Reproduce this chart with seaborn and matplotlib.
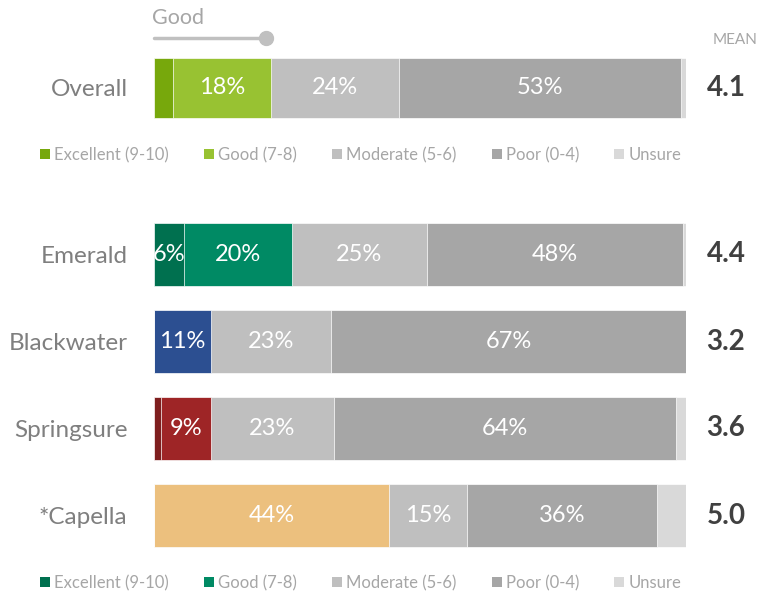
import numpy as np
import pandas as pd
import matplotlib
matplotlib.use("Agg")
import matplotlib.pyplot as plt
import seaborn as sns
from matplotlib.patches import Patch
from matplotlib.lines import Line2D

sns.set_style("white")
plt.rcParams['font.family'] = ['Lato', 'DejaVu Sans']

segments = ["Excellent (9-10)", "Good (7-8)", "Moderate (5-6)", "Poor (0-4)", "Unsure"]

# overall row (percent shares)
overall_label = ["Overall"]
overall_excellent = [3.6]
overall_good = [18.4]
overall_moderate = [24.1]
overall_poor = [53.0]
overall_unsure = [0.9]
overall_mean = [4.1]

# per-site rows
sites = ["Emerald", "Blackwater", "Springsure", "*Capella"]
site_excellent = [5.6, 0.0, 1.3, 0.0]
site_good = [20.3, 10.7, 9.4, 44.2]
site_moderate = [25.4, 22.6, 23.1, 14.6]
site_poor = [48.1, 66.7, 64.3, 35.8]
site_unsure = [0.6, 0.0, 1.9, 5.4]
site_mean = [4.4, 3.2, 3.6, 5.0]

overall_exc_col = ["#77A80C"]
overall_good_col = ["#98C232"]
site_exc_col = ["#00704F", "#2C4F91", "#7E1E1E", "#ECC07E"]
site_good_col = ["#008A64", "#2C4F91", "#9E2526", "#ECC07E"]
grey_cols = ["#BFBFBF", "#A6A6A6", "#D9D9D9"]

LABEL_GREY = "#7F7F7F"
LEGEND_GREY = "#A6A6A6"
W, H = 761, 594

fig = plt.figure(figsize=(W / 100, H / 100), dpi=100)


def px_axes(left, top, right, bottom):
    return fig.add_axes([left / W, 1 - bottom / H, (right - left) / W, (bottom - top) / H])


def stacked(ax, names, parts, part_cols, means, width):
    df = pd.DataFrame({"name": names})
    cums = np.cumsum(np.array(parts), axis=0)
    # draw the longest cumulative first so shorter ones overlay it
    for k in range(len(parts) - 1, -1, -1):
        df["val"] = cums[k]
        sns.barplot(data=df, x="val", y="name", hue="name", palette=part_cols[k],
                    orient="h", width=width, legend=False, ax=ax,
                    edgecolor="white", linewidth=0.5, saturation=1)
    for i in range(len(names)):
        left = 0
        for k in range(len(parts)):
            v = parts[k][i]
            if v >= 5.5:
                ax.text(left + v / 2, i, f"{round(v)}%", ha="center", va="center",
                        color="white", fontsize=17)
            left += v
        ax.text(107.5, i, f"{means[i]:.1f}", ha="center", va="center",
                fontsize=20, fontweight="bold", color="#404040", clip_on=False)
    ax.set_xlim(0, 100)
    ax.set_xlabel("")
    ax.set_ylabel("")
    ax.set_xticks([])
    ax.tick_params(axis="y", length=0, pad=19, labelsize=17.5, labelcolor=LABEL_GREY)
    sns.despine(ax=ax, left=True, bottom=True)


def legend(ax, exc_col, good_col, y):
    cols = [exc_col, good_col] + grey_cols
    handles = [Patch(facecolor=c, edgecolor="none") for c in cols]
    leg = ax.legend(handles, segments, loc="center left", bbox_to_anchor=(40 / W, 1 - y / H),
                    bbox_transform=fig.transFigure, ncol=5, frameon=False, fontsize=12,
                    handlelength=0.6, handleheight=0.6, handletextpad=0.25,
                    columnspacing=2.1, borderpad=0, borderaxespad=0)
    for t in leg.get_texts():
        t.set_color(LEGEND_GREY)


ax1 = px_axes(154, 44.5, 686, 131.5)
stacked(ax1, overall_label,
        [overall_excellent, overall_good, overall_moderate, overall_poor, overall_unsure],
        [overall_exc_col, overall_good_col] + [[c] for c in grey_cols],
        overall_mean, 0.7)
ax1.set_ylim(0.5, -0.5)
legend(ax1, overall_exc_col[0], overall_good_col[0], 155)

ax2 = px_axes(154, 211, 686, 559)
stacked(ax2, sites,
        [site_excellent, site_good, site_moderate, site_poor, site_unsure],
        [site_exc_col, site_good_col] + [[c] * 4 for c in grey_cols],
        site_mean, 0.725)
ax2.set_ylim(3.5, -0.5)
legend(ax2, site_exc_col[0], site_good_col[0], 583)

# slider decoration and headers
fig.add_artist(Line2D([154 / W, 266 / W], [1 - 38 / H] * 2, color="#C0C0C0", lw=2.5,
                      transform=fig.transFigure))
fig.add_artist(Line2D([266 / W], [1 - 38 / H], marker="o", ms=10, color="#C0C0C0",
                      transform=fig.transFigure))
fig.text(152 / W, 1 - 18 / H, "Good", color=LEGEND_GREY, fontsize=15.5, va="center", ha="left")
fig.text(735 / W, 1 - 40 / H, "MEAN", color=LEGEND_GREY, fontsize=11, va="center", ha="center")

fig.savefig("out.png", dpi=100)
